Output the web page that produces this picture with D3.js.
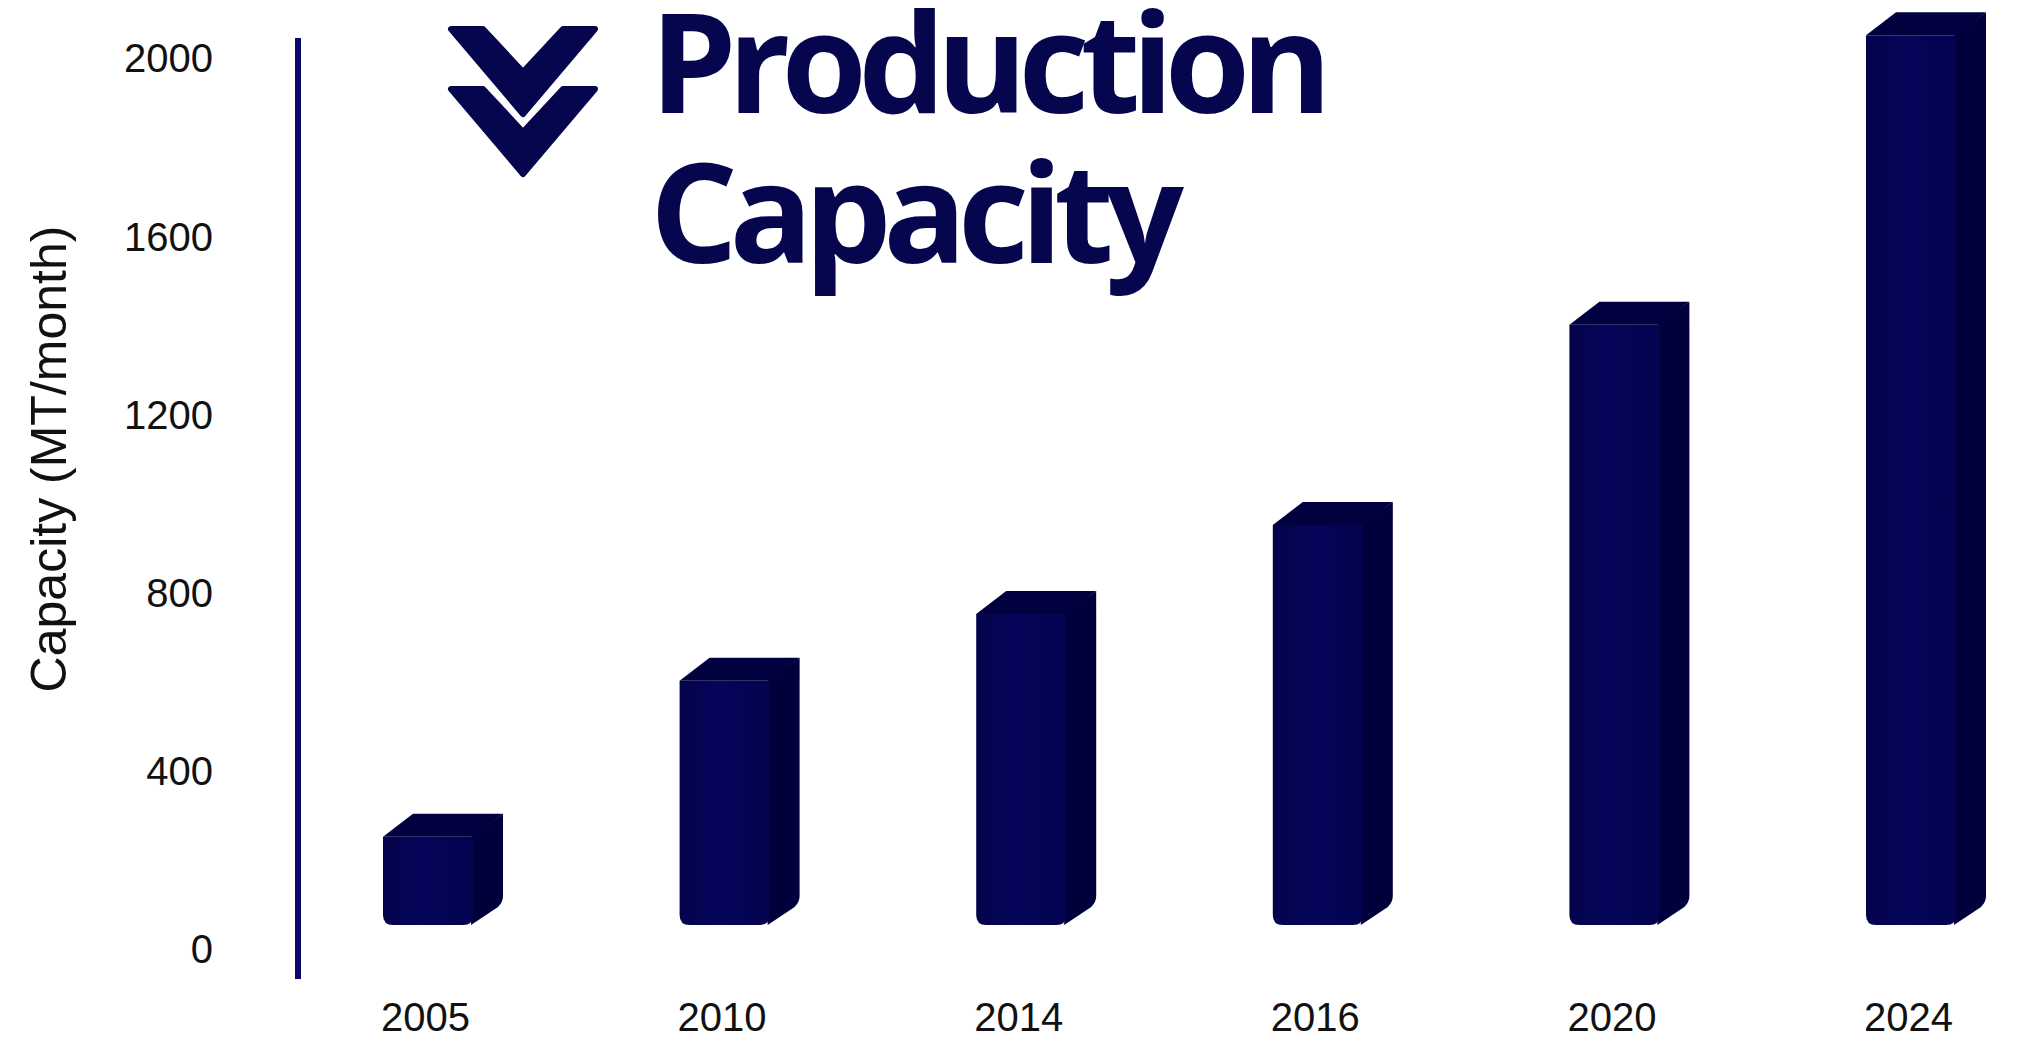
<!DOCTYPE html>
<html>
<head>
<meta charset="utf-8">
<script src="https://cdn.jsdelivr.net/npm/d3@7"></script>
<style>
  html, body { margin: 0; padding: 0; background: #fff; }
</style>
</head>
<body>
<div id="chart"></div>
<script>
var years = ["2005", "2010", "2014", "2016", "2020", "2024"];
var capacity = [250, 600, 750, 950, 1400, 2050];
var yTicks = [0, 400, 800, 1200, 1600, 2000];
var titleLines = ["Production", "Capacity"];
var yTitle = "Capacity (MT/month)";

var width = 2017, height = 1047;
var navy = "#06064f";

var svg = d3
  .select("#chart")
  .append("svg")
  .attr("width", width)
  .attr("height", height)
  .style("font-family", "'Liberation Sans', Arial, sans-serif");

var defs = svg.append("defs");
var fg = defs
  .append("linearGradient")
  .attr("id", "frontGrad")
  .attr("x1", "0%")
  .attr("x2", "100%");
fg.append("stop").attr("offset", "0%").attr("stop-color", "#03034c");
fg.append("stop").attr("offset", "40%").attr("stop-color", "#05055a");
fg.append("stop").attr("offset", "100%").attr("stop-color", "#030350");

var y = d3.scaleLinear().domain([0, 2000]).range([948, 57.5]);
var x = d3.scalePoint().domain(years).range([428, 1911]);

// y axis: labels only, plus the thick blue line
var yAxis = d3
  .axisLeft(y)
  .tickValues(yTicks)
  .tickFormat(d3.format("d"))
  .tickSize(0)
  .tickPadding(0);
var gy = svg.append("g").attr("transform", "translate(213,0)").call(yAxis);
gy.select(".domain").remove();
gy.selectAll("text")
  .style("font-size", "40px")
  .style("font-family", "'Liberation Sans', Arial, sans-serif")
  .attr("fill", "#111")
  .attr("dy", "0.36em");

svg
  .append("line")
  .attr("x1", 298)
  .attr("x2", 298)
  .attr("y1", 38)
  .attr("y2", 979)
  .attr("stroke", "#08086b")
  .attr("stroke-width", 6);

svg
  .append("text")
  .attr("transform", "translate(66,459) rotate(-90)")
  .attr("text-anchor", "middle")
  .style("font-size", "50px")
  .attr("fill", "#111")
  .text(yTitle);

// x axis labels
var xAxis = d3.axisBottom(x).tickSize(0).tickPadding(0);
var gx = svg.append("g").attr("transform", "translate(-3,1017)").call(xAxis);
gx.select(".domain").remove();
gx.selectAll("text")
  .style("font-size", "40px")
  .style("font-family", "'Liberation Sans', Arial, sans-serif")
  .attr("fill", "#111")
  .attr("dy", "0.36em");

// 3d bars
var barW = 90, dx = 30, dz = 23, r = 10;
var bars = svg
  .selectAll(".bar")
  .data(years.map((d, i) => ({ year: d, value: capacity[i] })))
  .enter()
  .append("g")
  .attr("class", "bar");

bars
  .append("path")
  .attr("fill", "#00003a")
  .attr("d", function (d) {
    var x1 = x(d.year) + barW / 2,
      top = y(d.value),
      bot = y(0) - dz;
    return (
      "M" + (x1 - 2) + "," + top +
      "L" + (x1 + dx) + "," + (top - dz) +
      "L" + (x1 + dx) + "," + (bot - dz - 6) +
      "Q" + (x1 + dx) + "," + (bot - dz) + " " + (x1 + dx - 5) + "," + (bot - dz + 5) +
      "L" + (x1 - 2) + "," + bot + "Z"
    );
  });

bars
  .append("path")
  .attr("fill", "#010140")
  .attr("d", function (d) {
    var x0 = x(d.year) - barW / 2,
      top = y(d.value);
    return (
      "M" + x0 + "," + top +
      "L" + (x0 + dx) + "," + (top - dz) +
      "L" + (x0 + barW + dx) + "," + (top - dz) +
      "L" + (x0 + barW) + "," + top + "Z"
    );
  });

bars
  .append("path")
  .attr("fill", "url(#frontGrad)")
  .attr("d", function (d) {
    var x0 = x(d.year) - barW / 2,
      x1 = x0 + barW,
      top = y(d.value),
      bot = y(0) - dz;
    return (
      "M" + x0 + "," + top +
      "L" + x1 + "," + top +
      "L" + x1 + "," + (bot - r) +
      "Q" + x1 + "," + bot + " " + (x1 - r) + "," + bot +
      "L" + (x0 + r) + "," + bot +
      "Q" + x0 + "," + bot + " " + x0 + "," + (bot - r) + "Z"
    );
  });

// title icon: two chevrons
var chev = svg.append("g").attr("fill", navy).attr("stroke", navy)
  .attr("stroke-width", 6).attr("stroke-linejoin", "round");
[0, 60].forEach(function (off) {
  var c = 523, t = 29 + off;
  chev
    .append("path")
    .attr("d",
      "M" + (c - 72) + "," + t +
      "L" + (c - 40) + "," + t +
      "L" + c + "," + (t + 43) +
      "L" + (c + 40) + "," + t +
      "L" + (c + 72) + "," + t +
      "L" + c + "," + (t + 85) + "Z");
});

// title text, squeezed to fit like the original
var titleBase = [113, 263];
var titleWidth = [682, 534];
titleLines.forEach(function (line, i) {
  var t = svg
    .append("text")
    .attr("x", 650)
    .attr("y", titleBase[i])
    .attr("fill", navy)
    .style("font-family", "'Open Sans', sans-serif")
    .style("font-weight", 700)
    .style("font-size", "138px")
    .text(line);
  var len = t.node().getComputedTextLength();
  var ls = (titleWidth[i] - len) / (line.length - 1);
  t.style("letter-spacing", ls + "px");
});
</script>
</body>
</html>
